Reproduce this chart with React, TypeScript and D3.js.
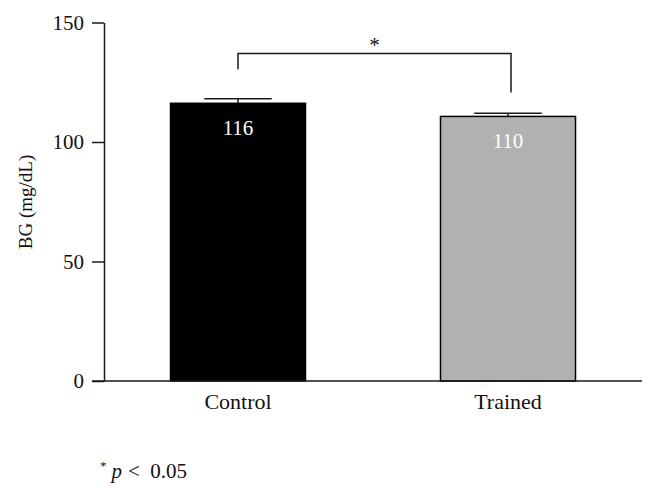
import React, { useEffect, useRef } from "react";
import * as d3 from "d3";

const categories = ["Control", "Trained"];
const means = [116.2, 110.7];
const errors = [1.9, 1.3];
const valueLabels = ["116", "110"];
const barColors = ["#000000", "#b1b1b1"];
const yTicks = [0, 50, 100, 150];
// significance bracket: top level, left foot, right foot (in mg/dL)
const bracketTop = 137;
const bracketFeet = [130.4, 120.7];

function App() {
  const ref = useRef<SVGSVGElement>(null);

  useEffect(() => {
    const svg = d3.select(ref.current);
    svg.selectAll("*").remove();
    const font = "'Liberation Serif', 'Times New Roman', serif";
    const ink = "#1a1a1a";

    const y = d3.scaleLinear().domain([0, 150]).range([381, 22.5]);
    const x = d3
      .scaleBand()
      .domain(categories)
      .range([103, 643])
      .paddingInner(0.5)
      .paddingOuter(0.25);
    const bw = x.bandwidth();

    // bars
    svg
      .selectAll(".bar")
      .data(categories)
      .enter()
      .append("rect")
      .attr("x", (d) => x(d)!)
      .attr("y", (d, i) => y(means[i]))
      .attr("width", bw)
      .attr("height", (d, i) => y(0) - y(means[i]))
      .style("fill", (d, i) => barColors[i])
      .style("stroke", "#000")
      .style("stroke-width", 1.5);

    // error bars
    categories.forEach((c, i) => {
      const cx = x(c)! + bw / 2;
      svg
        .append("line")
        .attr("x1", cx)
        .attr("x2", cx)
        .attr("y1", y(means[i]))
        .attr("y2", y(means[i] + errors[i]))
        .style("stroke", ink)
        .style("stroke-width", 1.5);
      svg
        .append("line")
        .attr("x1", cx - bw / 4)
        .attr("x2", cx + bw / 4)
        .attr("y1", y(means[i] + errors[i]))
        .attr("y2", y(means[i] + errors[i]))
        .style("stroke", ink)
        .style("stroke-width", 1.5);
    });

    // value labels inside bars
    svg
      .selectAll(".val")
      .data(categories)
      .enter()
      .append("text")
      .attr("x", (d) => x(d)! + bw / 2)
      .attr("y", (d, i) => y(means[i]) + 32)
      .attr("text-anchor", "middle")
      .style("fill", "#fff")
      .style("font-family", font)
      .style("font-size", "21px")
      .text((d, i) => valueLabels[i]);

    // y axis
    const yAxis = svg
      .append("g")
      .attr("transform", "translate(104,0)")
      .call(d3.axisLeft(y).tickValues(yTicks).tickSize(12).tickPadding(8).tickSizeOuter(0));
    yAxis.select(".domain").style("stroke", ink).style("stroke-width", 1.5);
    yAxis.selectAll(".tick line").style("stroke", ink).style("stroke-width", 1.5);
    yAxis
      .selectAll(".tick text")
      .style("font-family", font)
      .style("font-size", "21px")
      .style("fill", "#111");

    // x axis
    svg
      .append("line")
      .attr("x1", 92)
      .attr("x2", 642)
      .attr("y1", y(0))
      .attr("y2", y(0))
      .style("stroke", ink)
      .style("stroke-width", 1.5);
    svg
      .selectAll(".cat")
      .data(categories)
      .enter()
      .append("text")
      .attr("x", (d) => x(d)! + bw / 2)
      .attr("y", 409)
      .attr("text-anchor", "middle")
      .style("font-family", font)
      .style("font-size", "22px")
      .style("fill", "#111")
      .text((d) => d);

    // y axis title
    svg
      .append("text")
      .attr("transform", "translate(32,202) rotate(-90)")
      .attr("text-anchor", "middle")
      .style("font-family", font)
      .style("font-size", "19px")
      .style("fill", "#111")
      .text("BG (mg/dL)");

    // significance bracket
    const x0 = x(categories[0])! + bw / 2;
    const x1 = x(categories[1])! + bw / 2 + 3;
    const path = d3.path();
    path.moveTo(x0, y(bracketFeet[0]));
    path.lineTo(x0, y(bracketTop));
    path.lineTo(x1, y(bracketTop));
    path.lineTo(x1, y(bracketFeet[1]));
    svg
      .append("path")
      .attr("d", path.toString())
      .style("fill", "none")
      .style("stroke", ink)
      .style("stroke-width", 1.5);
    svg
      .append("text")
      .attr("x", (x0 + x1) / 2)
      .attr("y", y(bracketTop) - 2)
      .attr("text-anchor", "middle")
      .style("font-family", font)
      .style("font-size", "21px")
      .style("fill", "#111")
      .text("*");

    // footnote
    const note = svg
      .append("text")
      .attr("x", 100)
      .attr("y", 478)
      .style("font-family", font)
      .style("font-size", "21px")
      .style("fill", "#111")
      .style("white-space", "pre");
    note.append("tspan").attr("dy", -8).style("font-size", "13px").text("*");
    note.append("tspan").attr("dy", 8).attr("dx", 5).style("font-style", "italic").text("p");
    note.append("tspan").attr("dx", 6).text("<  0.05");
  }, []);

  return (
    <div>
      <svg ref={ref} width="656" height="495" style={{ position: "absolute", left: 0, top: 0 }}></svg>
    </div>
  );
}

export default App;
